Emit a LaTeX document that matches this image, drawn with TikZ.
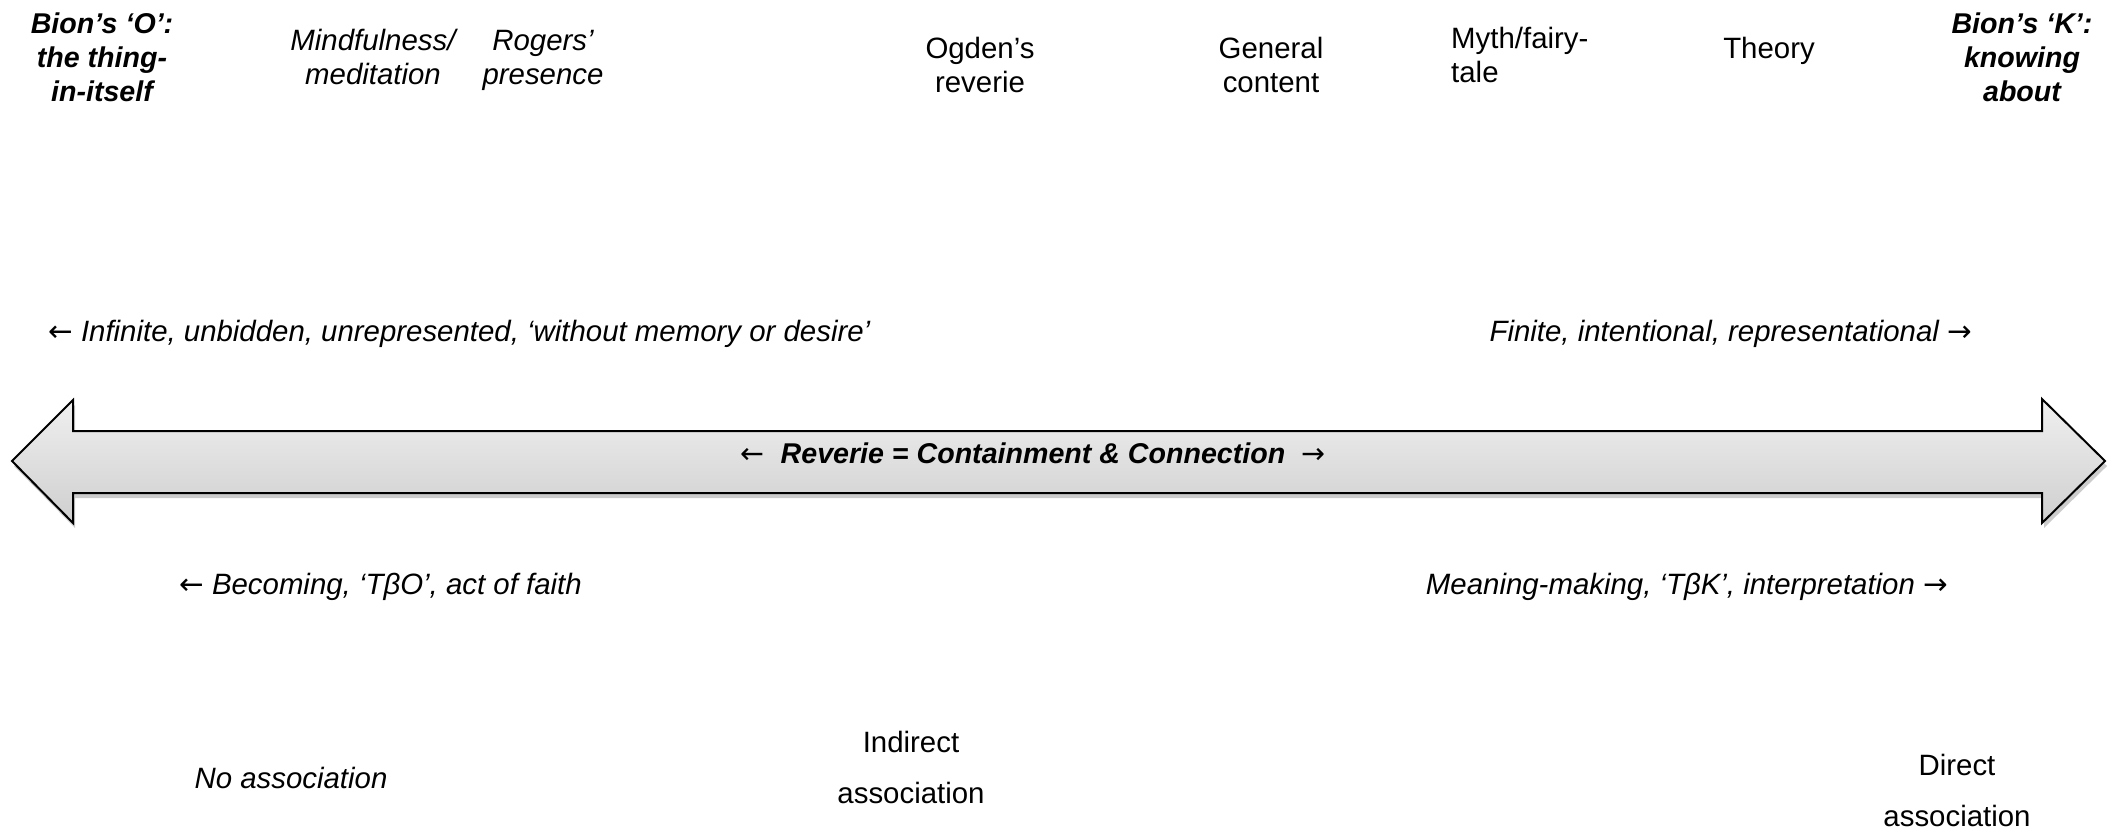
\documentclass[tikz,border=0pt]{standalone}
\usepackage{fontspec}
\setmainfont{Liberation Sans}
\newfontfamily\arrfont{DejaVu Sans}
\newcommand{\la}{{\arrfont\upshape\mdseries ←}}
\newcommand{\ra}{{\arrfont\upshape\mdseries →}}
\usetikzlibrary{shadows}
\tikzset{
  lbl/.style={inner sep=0pt, align=center, font=\fontsize{29.4}{34}\selectfont},
  ilbl/.style={lbl, font=\fontsize{29.4}{34}\selectfont\itshape},
  blbl/.style={lbl, font=\fontsize{28.6}{34}\selectfont\bfseries\itshape},
  wlbl/.style={lbl, font=\fontsize{29.4}{51}\selectfont},
  bigarrow/.style={draw=black, line width=2pt, line join=miter, top color=gray!12, bottom color=gray!38,
    drop shadow={shadow xshift=2pt, shadow yshift=-5pt, opacity=0.4}}
}
\begin{document}
\begin{tikzpicture}[x=1pt, y=-1pt]
\useasboundingbox (0,0) rectangle (2111,831);
% double arrow
\path[bigarrow] (12,461) -- (73,400) -- (73,431) -- (2042,431) -- (2042,399) -- (2105,461)
  -- (2042,523) -- (2042,493) -- (73,493) -- (73,523) -- cycle;
\node[blbl] (mid) at (1033,453) {\la\ \ Reverie = Containment \& Connection\ \ \ra};
% top labels
\node[blbl] (O) at (102,57) {Bion’s ‘O’:\\the thing-\\in-itself};
\node[ilbl] (mind) at (373,57) {Mindfulness/\\meditation};
\node[ilbl] (rog) at (543,60) {Rogers’\\presence};
\node[lbl] (ogd) at (980,65) {Ogden’s\\reverie};
\node[lbl] (gen) at (1271,65) {General\\content};
\node[lbl, align=left, anchor=west] (myth) at (1451,55) {Myth/fairy-\\tale};
\node[lbl] (theo) at (1769,51) {Theory};
\node[blbl] (K) at (2022,57) {Bion’s ‘K’:\\knowing\\about};
% middle labels
\node[ilbl, anchor=west] (inf) at (48,334) {\la\ Infinite, unbidden, unrepresented, ‘without memory or desire’};
\node[ilbl, anchor=east] (fin) at (1972,334) {Finite, intentional, representational \ra};
\node[ilbl, anchor=west] (bec) at (179,587) {\la\ Becoming, ‘TβO’, act of faith};
\node[ilbl, anchor=east] (mean) at (1948,587) {Meaning-making, ‘TβK’, interpretation \ra};
% bottom labels
\node[ilbl] (noa) at (291,778) {No association};
\node[wlbl] (ind) at (911,767) {Indirect\\association};
\node[wlbl] (dir) at (1957,790) {Direct\\association};
\end{tikzpicture}
\end{document}
